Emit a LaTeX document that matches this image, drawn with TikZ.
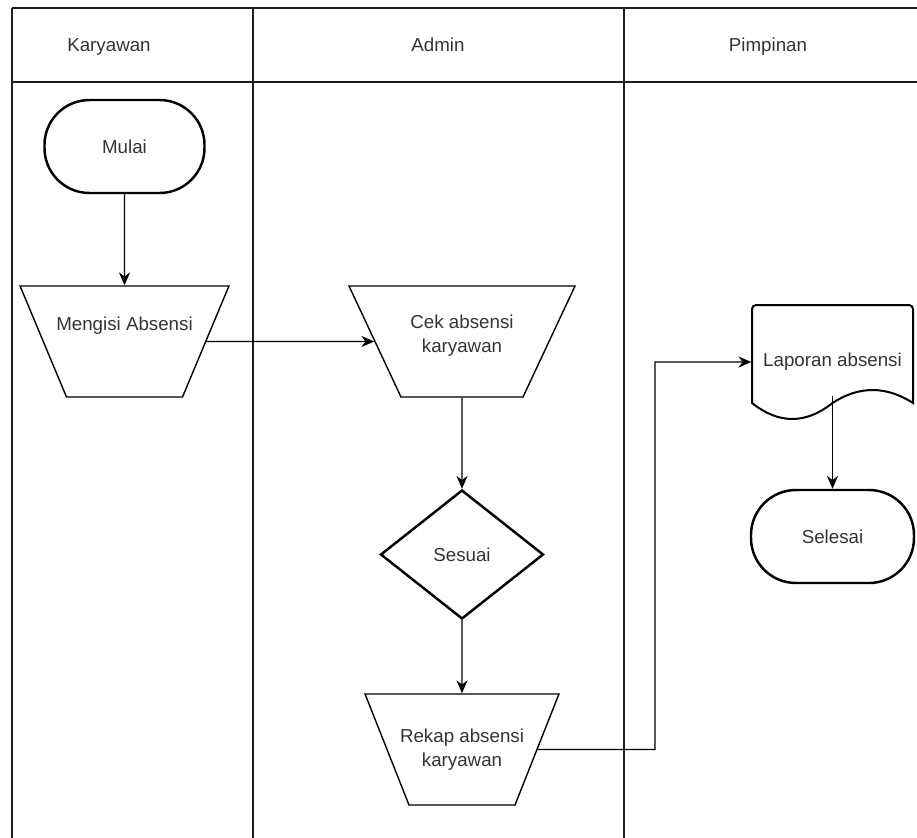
\documentclass[tikz,border=0pt]{standalone}
\usepackage{fontspec}
\setmainfont{Liberation Sans}
\usepackage{tikz}
\usetikzlibrary{arrows.meta}
\usetikzlibrary{shapes}
\definecolor{textgray}{rgb}{0.2,0.2,0.2}
\definecolor{linegray}{rgb}{0.12,0.12,0.12}
\def\px{0.03cm}

\begin{document}
\begin{tikzpicture}[x=0.03cm,y=-0.03cm,>={Stealth[length=11pt,width=9.5pt]},line width=1.2pt,
  every node/.style={font=\fontsize{16}{21}\selectfont,text=textgray},
  terminal/.style={draw,line width=2.1pt,rectangle,rounded corners=45*\px,minimum width=160*\px,minimum height=93*\px,inner sep=0pt},
  manual/.style={draw,trapezium,shape border rotate=180,inner sep=0pt,text height=3.33cm,text depth=0pt},
  decision/.style={draw,diamond,line width=2.1pt,minimum width=163*\px,minimum height=129*\px,inner sep=0pt}]

  \useasboundingbox (0,0) rectangle (917,838);

  \draw [line width=1.7pt,linegray] (12,8) -- (917,8);
  \draw [line width=1.9pt,linegray] (12,82) -- (917,82);
  \foreach \x in {12,253,624}
    \draw [linegray] (\x,8) -- (\x,838);
  \foreach \x/\lane [count=\i] in {109/Karyawan,438/Admin,768/Pimpinan}
    \node [anchor=base] (lane\i) at (\x,51) {\lane};

  \node [terminal] (mulai) at (124.5,146.5) {Mulai};
  \node [manual,trapezium left angle=67.3,trapezium right angle=67.3,text width=3.48cm,
    label={[yshift=16*\px]center:Mengisi Absensi}] (mengisi) at (124.5,341.5) {};
  \node [manual,trapezium left angle=64.9,trapezium right angle=64.9,text width=3.66cm,
    label={[yshift=6*\px,align=center]center:Cek absensi\\karyawan}] (cek) at (462,341.5) {};
  \node [decision] (sesuai) at (462,554.5) {Sesuai};
  \node [manual,trapezium left angle=68.4,trapezium right angle=68.4,text width=3.18cm,
    label={[align=center]center:Rekap absensi\\karyawan}] (rekap) at (462,749.5) {};
  \node [minimum width=161*\px,minimum height=114*\px,inner sep=0pt] (laporan) at (832.5,362) {Laporan absensi};
  \node [terminal,minimum width=163*\px] (selesai) at (832.5,536.5) {Selesai};

  \draw [line width=1.7pt,rounded corners=4*\px] (752,403) -- (752,305) -- (913,305) [sharp corners] -- (913,403)
    .. controls (886,385.7) and (859,385.7) .. (832.5,403)
    .. controls (805.7,424.3) and (778.8,424.3) .. (752,403) -- cycle;
  \coordinate (lapwave) at (832.5,396);
  \coordinate (belok) at (655,749.5);

  \draw [->] (mulai) -- (mengisi);
  \draw [->] (mengisi) -- (cek);
  \draw [->] (cek) -- (sesuai);
  \draw [->] (sesuai) -- (rekap);
  \draw [->] (rekap) -- (belok) |- (laporan);
  \draw [->] (lapwave) -- (selesai);

\end{tikzpicture}
\end{document}
